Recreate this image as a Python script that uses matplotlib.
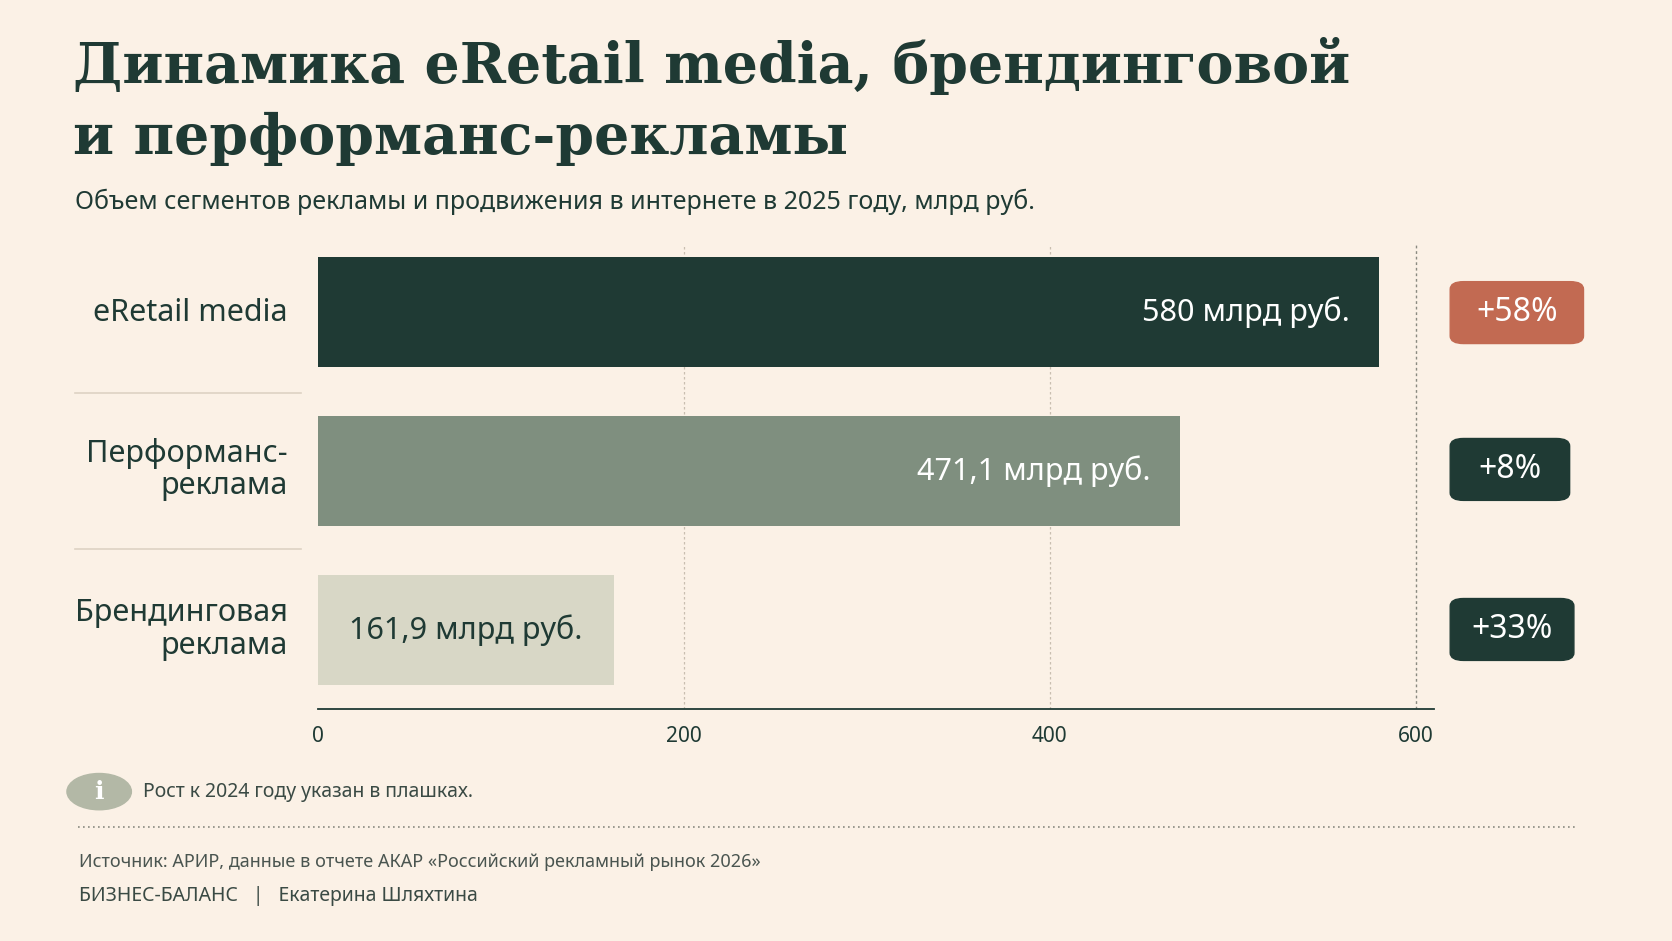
import matplotlib.pyplot as plt
from matplotlib.patches import Circle, FancyBboxPatch
from matplotlib.lines import Line2D

categories = ["eRetail media", "Перформанс-\nреклама", "Брендинговая\nреклама"]
values = [580, 471.1, 161.9]
value_labels = ["580 млрд руб.", "471,1 млрд руб.", "161,9 млрд руб."]
growth = ["+58%", "+8%", "+33%"]
ticks = [0, 200, 400, 600]

BG = "#fbf1e6"
DARK = "#1f3a34"
bar_colors = [DARK, "#7f8f7f", "#d8d7c6"]
text_colors = ["white", "white", DARK]
badge_colors = ["#c26a52", DARK, DARK]

W, H = 1568, 882
def fx(x): return x / W
def fy(y): return 1 - y / H

plt.rcParams['font.family'] = ['Noto Sans', 'DejaVu Sans']
fig = plt.figure(figsize=(16.72, 9.41), dpi=100, facecolor=BG)

ax = fig.add_axes([fx(298), fy(665), fx(1345) - fx(298), fy(230) - fy(665)])
ax.set_facecolor(BG)
ax.barh(range(3), values, height=0.69, color=bar_colors, zorder=3)
ax.set_xlim(0, 610)
ax.set_ylim(2.5, -0.42)
for t in [200, 400]:
    ax.axvline(t, color="#c9beb0", lw=0.9, ls=(0, (2, 2)), zorder=1)
ax.axvline(600, color="#8a8a80", lw=1, ls=(0, (2, 2)), zorder=1)
for s in ["top", "right", "left"]:
    ax.spines[s].set_visible(False)
ax.spines["bottom"].set_color(DARK)
ax.spines["bottom"].set_linewidth(1.3)
ax.set_yticks([])
ax.set_xticks(ticks)
ax.set_xticklabels([str(t) for t in ticks], fontsize=15, fontweight="bold", color=DARK)
ax.tick_params(axis="x", length=0, pad=12)

for i, v in enumerate(values):
    if i < 2:
        ax.text(v - 16, i, value_labels[i], ha="right", va="center", fontsize=22,
                fontweight="bold", color=text_colors[i], zorder=4)
    else:
        ax.text(17, i, value_labels[i], ha="left", va="center", fontsize=22,
                fontweight="bold", color=text_colors[i], zorder=4)

# category labels
label_y = [293, 440, 590]
for i, c in enumerate(categories):
    fig.text(fx(270), fy(label_y[i]), c, ha="right", va="center", fontsize=22,
             color=DARK, linespacing=1.1)
for y in [368, 515]:
    fig.add_artist(Line2D([fx(70), fx(282)], [fy(y), fy(y)], color="#ddd2c4", lw=1.2))

# badges
badge_w = [125, 112, 116]
for i, g in enumerate(growth):
    x0 = 1360
    fig.add_artist(FancyBboxPatch((fx(x0), fy(label_y[i] + 29)), fx(badge_w[i]), 58 / H,
                                  boxstyle="round,pad=0,rounding_size=0.008",
                                  transform=fig.transFigure, color=badge_colors[i]))
    fig.text(fx(x0 + badge_w[i] / 2), fy(label_y[i]), g, ha="center", va="center",
             fontsize=23, fontweight="bold", color="white")

# titles
fig.text(fx(68), fy(62), "Динамика eRetail media, брендинговой", fontsize=40,
         fontweight="bold", family="DejaVu Serif", color=DARK, va="center")
fig.text(fx(68), fy(130), "и перформанс-рекламы", fontsize=40,
         fontweight="bold", family="DejaVu Serif", color=DARK, va="center")
fig.text(fx(70), fy(189), "Объем сегментов рекламы и продвижения в интернете в 2025 году, млрд руб.",
         fontsize=18, color=DARK, va="center")

# note
fig.add_artist(Circle((fx(93), fy(742)), 17 / H, transform=fig.transFigure, color="#b3b8a6"))
fig.text(fx(93), fy(742), "i", ha="center", va="center", fontsize=18, fontweight="bold",
         family="DejaVu Serif", color="white")
fig.text(fx(134), fy(742), "Рост к 2024 году указан в плашках.", fontsize=14, color="#3a4a44", va="center")
fig.add_artist(Line2D([fx(73), fx(1477)], [fy(775), fy(775)], color="#8a8a80", lw=1.2, ls=(0, (1, 2))))
fig.text(fx(74), fy(808), "Источник: АРИР, данные в отчете АКАР «Российский рекламный рынок 2026»",
         fontsize=13, color="#4a5550", va="center")
fig.text(fx(74), fy(840), "БИЗНЕС-БАЛАНС   |   Екатерина Шляхтина", fontsize=14,
         fontweight="bold", color="#3a4a44", va="center")

fig.savefig("out.png", dpi=100, facecolor=BG)
